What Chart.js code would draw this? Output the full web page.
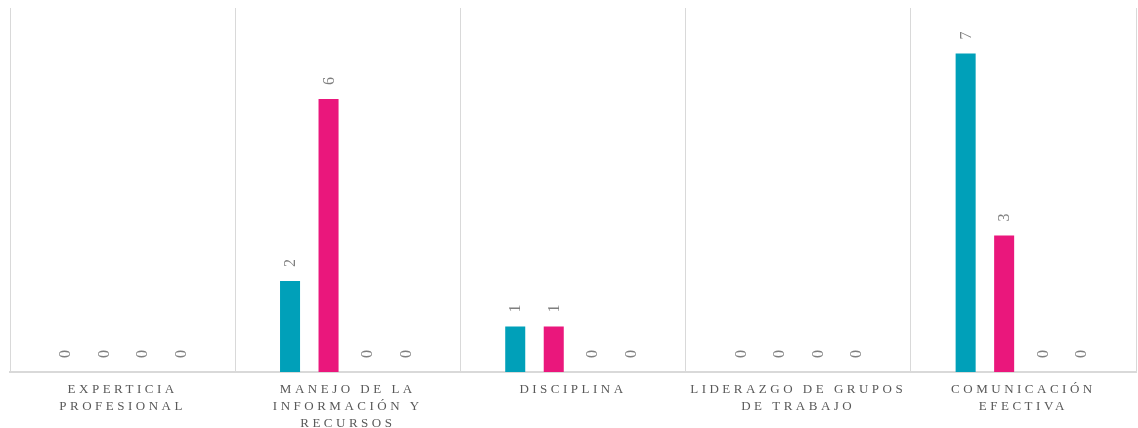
<!DOCTYPE html>
<html>
<head>
<meta charset="utf-8">
<script src="https://cdn.jsdelivr.net/npm/chart.js@4/dist/chart.umd.min.js"></script>
<style>
html,body{margin:0;padding:0;background:#fff;}
#wrap{width:1138px;height:428px;position:relative;}
</style>
</head>
<body>
<div id="wrap"><canvas id="c" width="1138" height="428"></canvas></div>
<script>
const categories = [
  ["EXPERTICIA", "PROFESIONAL"],
  ["MANEJO DE LA", "INFORMACIÓN Y", "RECURSOS"],
  ["DISCIPLINA"],
  ["LIDERAZGO DE GRUPOS", "DE TRABAJO"],
  ["COMUNICACIÓN", "EFECTIVA"]
];
const series1 = [0, 2, 1, 0, 7];
const series2 = [0, 6, 1, 0, 3];
const series3 = [0, 0, 0, 0, 0];
const series4 = [0, 0, 0, 0, 0];
const seriesNames = ["Serie 1", "Serie 2", "Serie 3", "Serie 4"];
const seriesColors = ["#00A0B9", "#EA177C", "#A5A5A5", "#FFC000"];

const labelPlugin = {
  id: 'rotLabels',
  beforeDraw(chart) { chart.ctx.letterSpacing = '3.5px'; },
  beforeDatasetsDraw(chart) { chart.ctx.letterSpacing = '0px'; },
  afterDatasetsDraw(chart) {
    const ctx = chart.ctx;
    ctx.save();
    ctx.letterSpacing = '0px';
    ctx.fillStyle = '#7f7f7f';
    ctx.font = '16px "Liberation Serif", serif';
    ctx.textAlign = 'left';
    ctx.textBaseline = 'middle';
    chart.data.datasets.forEach((ds, i) => {
      const meta = chart.getDatasetMeta(i);
      meta.data.forEach((bar, j) => {
        const v = ds.data[j];
        ctx.save();
        ctx.translate(bar.x + 1, bar.y - 14);
        ctx.rotate(-Math.PI / 2);
        ctx.fillText(String(v), 0, 0);
        ctx.restore();
      });
    });
    ctx.restore();
  }
};

new Chart(document.getElementById('c'), {
  type: 'bar',
  data: {
    labels: categories,
    datasets: [series1, series2, series3, series4].map((d, i) => ({
      label: seriesNames[i],
      data: d,
      backgroundColor: seriesColors[i],
      categoryPercentage: 0.684,
      barPercentage: 0.52
    }))
  },
  options: {
    responsive: false,
    animation: false,
    layout: { padding: { top: 8, left: 10, right: 2, bottom: 0 } },
    plugins: { legend: { display: false }, tooltip: { enabled: false } },
    scales: {
      y: { display: false, min: 0, max: 8 },
      x: {
        grid: { color: '#d9d9d9', lineWidth: 1, drawTicks: false, offset: true },
        border: { color: '#d9d9d9', width: 2 },
        ticks: {
          color: '#595959',
          font: { family: '"Liberation Serif", serif', size: 13, lineHeight: 1.3 },
          padding: 9,
          maxRotation: 0,
          autoSkip: false
        },
        afterFit(scale) { scale.height = 56; }
      }
    }
  },
  plugins: [labelPlugin]
});
</script>
</body>
</html>
